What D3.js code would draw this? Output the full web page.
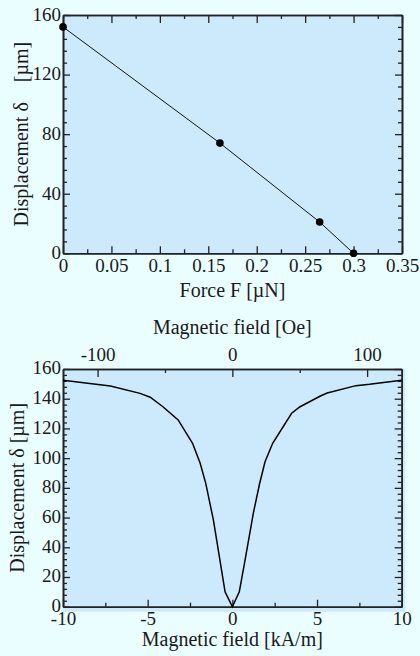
<!DOCTYPE html>
<html>
<head>
<meta charset="utf-8">
<script src="https://cdn.jsdelivr.net/npm/d3@7"></script>
<style>
  body { margin: 0; background: #eafeff; }
  svg { display: block; }
  text { font-family: 'Liberation Serif', 'Times New Roman', serif; fill: #1a1a1a; }
</style>
</head>
<body>
<div id="chart"></div>
<script>
// top panel: displacement vs force
const force = [0, 0.162, 0.265, 0.3];
const dispForce = [152, 74, 21, 0];
const forceTicks = [0, 0.05, 0.1, 0.15, 0.2, 0.25, 0.3, 0.35];
const dispTicksTop = [0, 40, 80, 120, 160];

// bottom panel: displacement vs magnetic field
const field = [-10, -7.2, -5.45, -4.85, -4.1, -3.2, -2.35, -1.9, -1.57, -1.12, -0.43, 0,
               0.41, 0.75, 1.24, 1.6, 1.93, 2.38, 3.5, 4.0, 5.2, 5.6, 7.3, 8.1, 10];
const dispField = [152.5, 148.5, 143.6, 141, 134.6, 125.7, 110, 96.5, 83, 58.4, 10, 0,
                   10, 31.4, 63, 82.4, 97.6, 110, 130.2, 134.6, 141.8, 143.8, 148.8, 149.7, 152.5];
const fieldTicks = [-10, -5, 0, 5, 10];
const oeTicks = [-100, 0, 100];
const dispTicksBottom = [0, 20, 40, 60, 80, 100, 120, 140, 160];

const width = 420;
const height = 656;
const plotFill = '#cceafc';
const axisColor = '#222';
const fontSize = '20px';
const tickFont = '19px';

const svg = d3.select('#chart').append('svg')
    .attr('width', width)
    .attr('height', height);

const fmt = d => String(+d.toFixed(3));

// draw a tick axis; pad = null means no labels
function tickAxis(axisFn, scale, values, size, pad, tx, ty) {
    const ax = axisFn(scale).tickValues(values).tickSize(size).tickSizeOuter(0)
        .tickPadding(pad == null ? 0 : pad)
        .tickFormat(pad == null ? '' : fmt);
    const g = svg.append('g')
        .attr('transform', `translate(${tx},${ty})`)
        .call(ax);
    g.select('.domain').attr('stroke', axisColor).attr('stroke-width', 1.6);
    g.selectAll('.tick line').attr('stroke', axisColor).attr('stroke-width', 1.3);
    g.selectAll('.tick text').style('font-size', tickFont).attr('fill', '#1a1a1a');
    return g;
}

function minors(lo, hi, step, majors) {
    const out = [];
    for (let i = 0; lo + i * step <= hi + 1e-9; i++) {
        const v = +(lo + i * step).toFixed(4);
        if (!majors.some(m => Math.abs(m - v) < 1e-6)) out.push(v);
    }
    return out;
}

// ---------- top panel ----------
const x1 = d3.scaleLinear().domain([0, 0.35]).range([63, 402]);
const y1 = d3.scaleLinear().domain([0, 160]).range([253.3, 15]);

svg.append('rect')
    .attr('x', x1(0)).attr('y', y1(160))
    .attr('width', x1(0.35) - x1(0)).attr('height', y1(0) - y1(160))
    .attr('fill', plotFill);

const fMinor = minors(0, 0.35, 0.025, forceTicks);
const dMinorTop = minors(0, 160, 8, dispTicksTop);

tickAxis(d3.axisBottom, x1, forceTicks, -7, 5, 0, y1(0));
tickAxis(d3.axisBottom, x1, fMinor, -4, null, 0, y1(0));
tickAxis(d3.axisTop, x1, forceTicks, -8, null, 0, y1(160));
tickAxis(d3.axisTop, x1, fMinor, -4, null, 0, y1(160));
tickAxis(d3.axisLeft, y1, dispTicksTop, -7, 2, x1(0), 0)
    .selectAll('.tick text').attr('dy', '0.28em');
tickAxis(d3.axisLeft, y1, dMinorTop, -4, null, x1(0), 0);
tickAxis(d3.axisRight, y1, dispTicksTop, -7, null, x1(0.35), 0);
tickAxis(d3.axisRight, y1, dMinorTop, -4, null, x1(0.35), 0);

const pts = force.map((f, i) => ({f: f, d: dispForce[i]}));
svg.append('path')
    .datum(pts)
    .attr('fill', 'none')
    .attr('stroke', '#111')
    .attr('stroke-width', 1)
    .attr('d', d3.line().x(d => x1(d.f)).y(d => y1(d.d)));

svg.selectAll('.dot')
    .data(pts)
    .join('circle')
    .attr('cx', d => x1(d.f))
    .attr('cy', d => y1(d.d))
    .attr('r', 3.8)
    .attr('fill', '#000');

svg.append('text')
    .attr('x', (x1(0) + x1(0.35)) / 2)
    .attr('y', 297)
    .attr('text-anchor', 'middle')
    .style('font-size', fontSize)
    .text('Force F [µN]');

svg.append('text')
    .attr('transform', `translate(28, ${(y1(0) + y1(160)) / 2}) rotate(-90)`)
    .attr('text-anchor', 'middle')
    .style('font-size', fontSize)
    .style('white-space', 'pre')
    .text('Displacement δ    [µm]');

// ---------- bottom panel ----------
const x2 = d3.scaleLinear().domain([-10, 10]).range([63, 401.7]);
// 1 kA/m = 4π/1000 kOe -> 10 kA/m is about 125.7 Oe
const xOe = d3.scaleLinear().domain([-40 * Math.PI, 40 * Math.PI]).range([63, 401.7]);
const y2 = d3.scaleLinear().domain([0, 160]).range([606.7, 369]);

svg.append('rect')
    .attr('x', x2(-10)).attr('y', y2(160))
    .attr('width', x2(10) - x2(-10) + 3.5).attr('height', y2(0) - y2(160) + 5)
    .attr('fill', plotFill);

const hMinor = minors(-10, 10, 2.5, fieldTicks);
const oeMinor = [-50, 50];
const dMinorBot = minors(0, 160, 4, dispTicksBottom);

tickAxis(d3.axisBottom, x2, fieldTicks, -7, 5, 0, y2(0));
tickAxis(d3.axisBottom, x2, hMinor, -4, null, 0, y2(0));
tickAxis(d3.axisTop, xOe, oeTicks, -8, 8, 0, y2(160));
tickAxis(d3.axisTop, xOe, oeMinor, -4, null, 0, y2(160));
tickAxis(d3.axisLeft, y2, dispTicksBottom, -7, 2, x2(-10), 0)
    .selectAll('.tick text').attr('dy', '0.26em');
tickAxis(d3.axisLeft, y2, dMinorBot, -4, null, x2(-10), 0);
tickAxis(d3.axisRight, y2, dispTicksBottom, -7, null, x2(10), 0);
tickAxis(d3.axisRight, y2, dMinorBot, -4, null, x2(10), 0);

const curve = field.map((h, i) => ({h: h, d: dispField[i]}));
svg.append('path')
    .datum(curve)
    .attr('fill', 'none')
    .attr('stroke', '#000')
    .attr('stroke-width', 1.5)
    .attr('d', d3.line().x(d => x2(d.h)).y(d => y2(d.d)));

svg.append('text')
    .attr('x', (x2(-10) + x2(10)) / 2)
    .attr('y', 334)
    .attr('text-anchor', 'middle')
    .style('font-size', fontSize)
    .text('Magnetic field [Oe]');

svg.append('text')
    .attr('x', (x2(-10) + x2(10)) / 2)
    .attr('y', 646)
    .attr('text-anchor', 'middle')
    .style('font-size', fontSize)
    .text('Magnetic field [kA/m]');

svg.append('text')
    .attr('transform', `translate(24, ${(y2(0) + y2(160)) / 2}) rotate(-90)`)
    .attr('text-anchor', 'middle')
    .style('font-size', fontSize)
    .text('Displacement δ [µm]');
</script>
</body>
</html>
